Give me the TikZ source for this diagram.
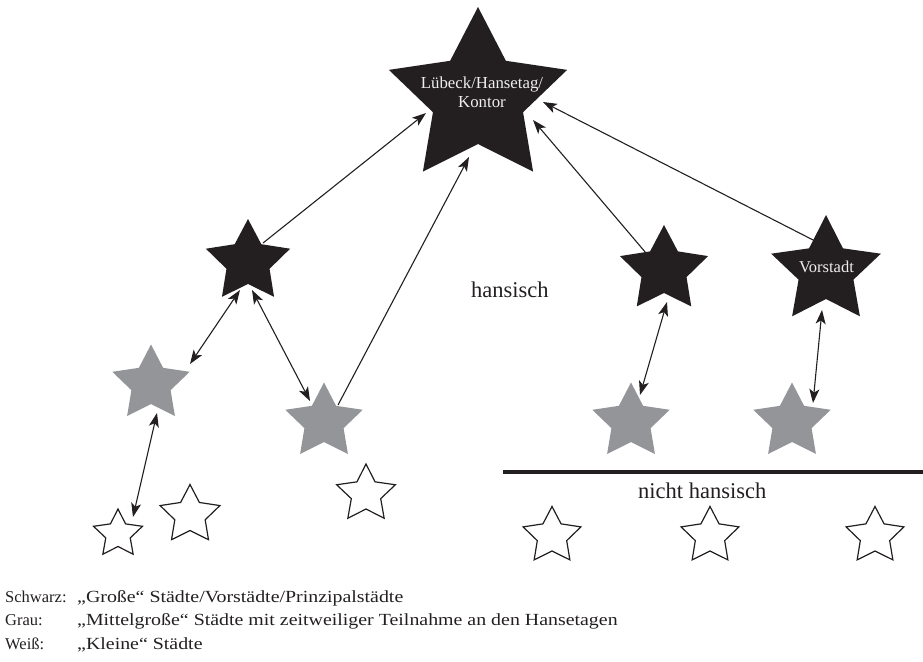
\documentclass[tikz,border=0pt]{standalone}
\usepackage{fontspec}
\setmainfont{Liberation Serif}
\newfontfamily\widefont[FakeStretch=1.17]{Liberation Serif}
\usetikzlibrary{arrows.meta,calc}
\definecolor{ink}{HTML}{231F20}
\definecolor{midgray}{HTML}{939598}
\definecolor{paper}{HTML}{EEEEEE}
\tikzset{
  % five-pointed star: outer radius #1, inner radius #2
  pics/hstar/.style 2 args={code={
    \path[pic actions] (-90:#1)
      \foreach \k in {1,...,9}{ -- ({-90+36*\k}:{mod(\k,2)==0 ? #1 : #2}) } -- cycle;
  }},
  blackstar/.style={fill=ink, xscale=1.03},
  graystar/.style={fill=midgray, xscale=1.03},
  whitestar/.style={draw=ink, line width=1.2pt, fill=white, xscale=1.03},
  headtip/.tip={Stealth[length=14pt,width=10pt,inset=3.5pt]},
  link/.style={draw=ink, line width=1.1pt, -headtip},
  duplink/.style={draw=ink, line width=1.1pt, headtip-headtip},
  label/.style={inner sep=0pt, text=ink},
}
\begin{document}
\begin{tikzpicture}[x=1pt,y=-1pt]
\useasboundingbox (0,0) rectangle (923,661);

% star centres
\coordinate (b0) at (478,98);
\coordinate (b1) at (248,262);
\coordinate (b2) at (664,270);
\coordinate (b3) at (826,271);
\coordinate (g1) at (151,384);
\coordinate (g2) at (324,422);
\coordinate (g3) at (631,422);
\coordinate (g4) at (792,422);
\coordinate (w1) at (118,534);
\coordinate (w2) at (190,515);
\coordinate (w3) at (366,494);
\coordinate (w4) at (552,536);
\coordinate (w5) at (710,536);
\coordinate (w6) at (875,536);

% black: large towns
\pic[blackstar] at (b0) {hstar={91}{46}};
\pic[blackstar] at (b1) {hstar={43}{22}};
\pic[blackstar] at (b2) {hstar={45}{23}};
\pic[blackstar] at (b3) {hstar={56}{28}};
% grey: middle-sized towns
\pic[graystar] at (g1) {hstar={39.5}{20}};
\pic[graystar] at (g2) {hstar={39.5}{20}};
\pic[graystar] at (g3) {hstar={39.5}{20}};
\pic[graystar] at (g4) {hstar={39.5}{20}};
% white: small towns
\pic[whitestar] at (w1) {hstar={25}{12.5}};
\pic[whitestar] at (w2) {hstar={30.5}{15.5}};
\pic[whitestar] at (w3) {hstar={30}{15}};
\pic[whitestar] at (w4) {hstar={29.5}{15}};
\pic[whitestar] at (w5) {hstar={29.5}{15}};
\pic[whitestar] at (w6) {hstar={29.5}{15}};

% labels inside the black stars
\node[inner sep=0pt, text=paper, align=center,
      font=\fontsize{16.8}{19}\selectfont, anchor=base] (b0text) at (482,107)
      {Lübeck/Hansetag/\\Kontor};
\node[inner sep=0pt, text=paper, font=\fontsize{16.5}{19}\selectfont,
      anchor=base] (b3text) at (826.5,272) {Vorstadt};

% boundary between hanseatic and non-hanseatic towns
\coordinate (lineL) at (503,472);
\coordinate (lineR) at (923,472);
\draw[ink, line width=4pt] (lineL) -- (lineR);

\node[label, font=\fontsize{22.5}{26}\selectfont, anchor=base west] (hans) at (471,297) {hansisch};
\node[label, font=\fontsize{22.5}{26}\selectfont, anchor=base west] (nhans) at (638,498) {nicht hansisch};

% relations
\draw[link] ($(b1)+(15,-19)$) -- ($(b0)+(-52,15)$);
\draw[link] ($(g2)+(14,-17)$) -- ($(b0)+(-9,59)$);
\draw[link] ($(b2)+(-18,-17)$) -- ($(b0)+(55,22)$);
\draw[link] ($(b3)+(-9,-29)$) -- ($(b0)+(65,4)$);
\draw[duplink] ($(b1)+(-8,28)$) -- ($(g1)+(39,-20)$);
\draw[duplink] ($(b1)+(4,28)$) -- ($(g2)+(-14,-21)$);
\draw[duplink] ($(g1)+(6,29)$) -- ($(w1)+(15,-17)$);
\draw[duplink] ($(b2)+(3,32)$) -- ($(g3)+(9,-27)$);
\draw[duplink] ($(b3)+(-4,39)$) -- ($(g4)+(21,-19)$);

% legend
\begin{scope}[every node/.style={label, anchor=base west}]
\node[font=\fontsize{16.5}{19}\selectfont] (k1) at (5,602.5) {Schwarz:};
\node[font=\widefont\fontsize{17}{19}\selectfont] (v1) at (77,602.5) {„Große“ Städte/Vorstädte/Prinzipalstädte};
\node[font=\fontsize{16.5}{19}\selectfont] (k2) at (5,625) {Grau:};
\node[font=\widefont\fontsize{17}{19}\selectfont] (v2) at (77,625) {„Mittelgroße“ Städte mit zeitweiliger Teilnahme an den Hansetagen};
\node[font=\fontsize{16.5}{19}\selectfont] (k3) at (5,649) {Weiß:};
\node[font=\widefont\fontsize{17}{19}\selectfont] (v3) at (77,649) {„Kleine“ Städte};
\end{scope}
\end{tikzpicture}
\end{document}
